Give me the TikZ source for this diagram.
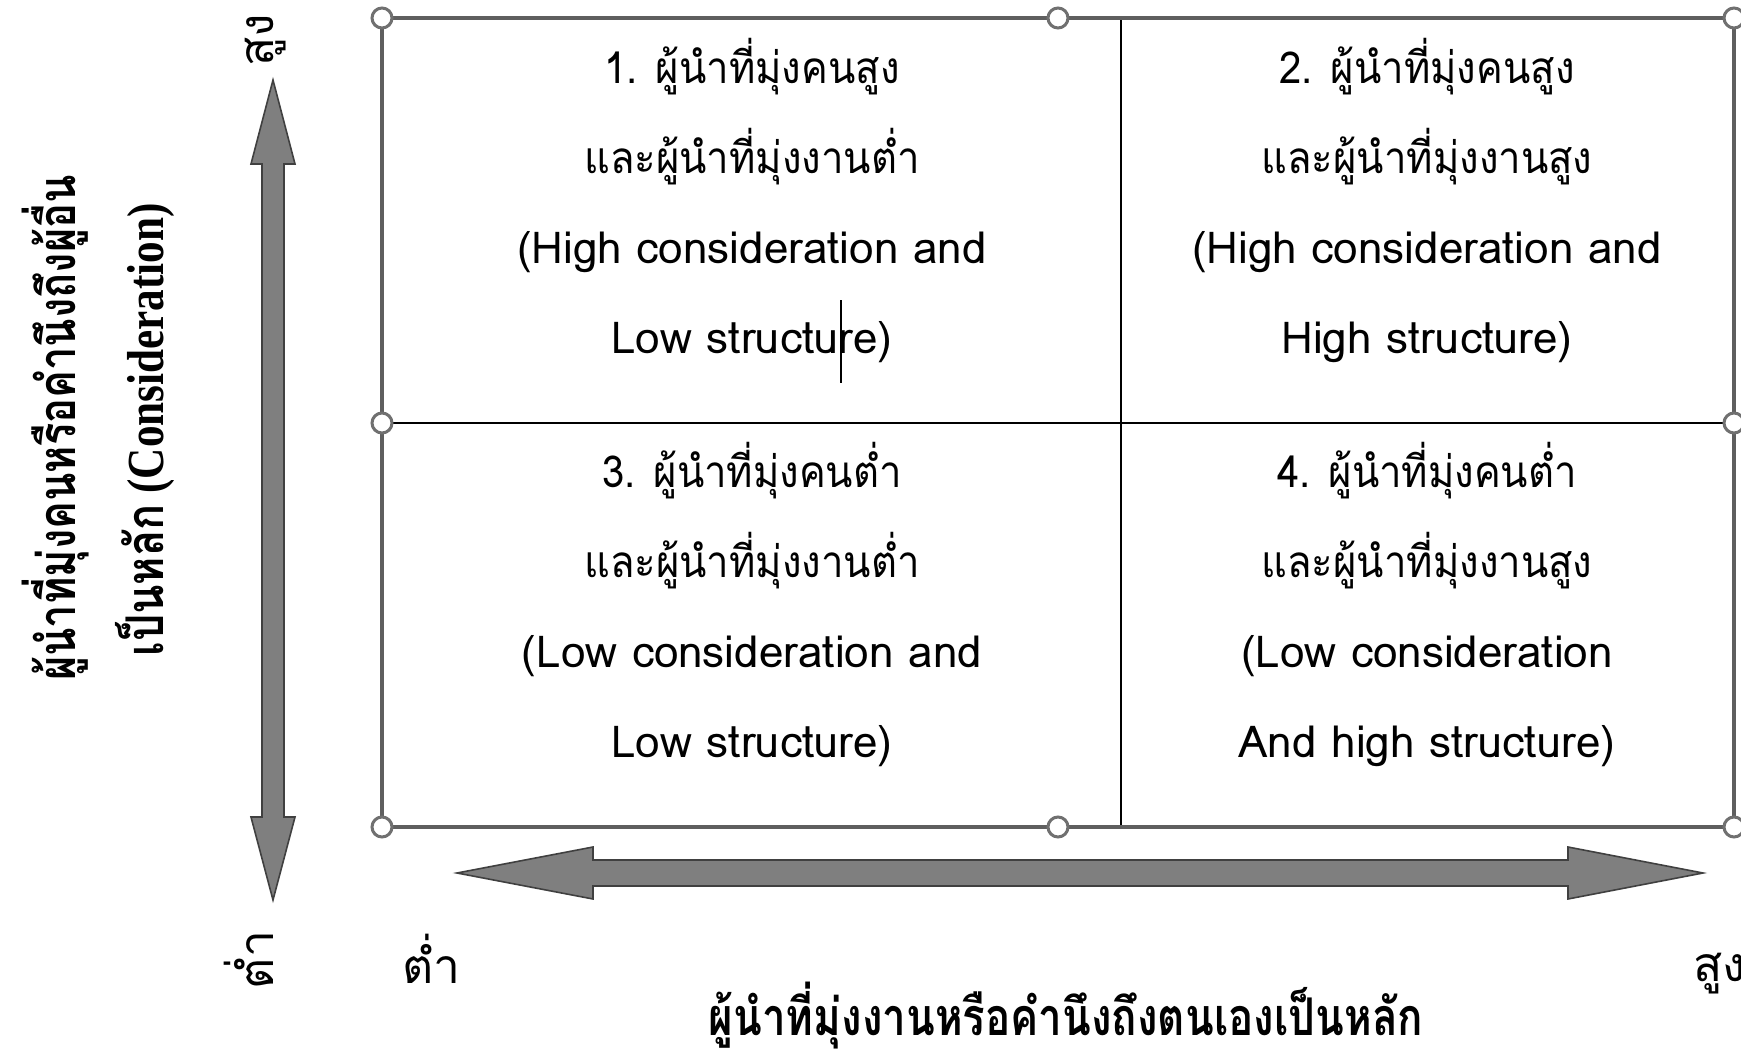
\documentclass[tikz,border=0pt]{standalone}
\usepackage{fontspec}
\setmainfont{Liberation Serif}
\newfontfamily\thaifont[Script=Thai]{Loma}
\usetikzlibrary{positioning}
\definecolor{framegray}{HTML}{5F5F5F}
\definecolor{handlegray}{HTML}{707070}
\definecolor{arrowfill}{HTML}{7F7F7F}
\newcommand\thn[1]{\scalebox{0.91}[1]{#1}}
\tikzset{frame/.style={draw=framegray, line width=2pt},
  grid/.style={draw=black, line width=1pt},
  handle/.style={circle, draw=handlegray, fill=white, line width=1.5pt, minimum size=10pt, inner sep=0pt},
  bigarrow/.style={fill=arrowfill, draw=black!75, line width=0.8pt, line join=miter},
  cell/.style={align=center, inner sep=0pt, font=\thaifont\fontsize{22}{45}\selectfont},
  lbl/.style={inner sep=0pt, font=\thaifont\fontsize{24}{28}\selectfont},
  ttl/.style={inner sep=0pt, font=\fontsize{26}{30}\selectfont\bfseries}}

\begin{document}
\begin{tikzpicture}[x=0.5pt,y=-0.5pt]
  \useasboundingbox (0,0) rectangle (1741,1049);
  % table and its frame
  \coordinate (nw) at (382,18);
  \coordinate (se) at (1734,827);
  \draw[grid] (382,423) -- (1734,423);
  \draw[grid] (1121,18) -- (1121,827);
  \draw[frame] (nw) rectangle (se);
  \foreach \x/\y [count=\i] in {382/18,1058/18,1734/18,382/423,1734/423,382/827,1058/827,1734/827}
    \node[handle] (h\i) at (\x,\y) {};
  % the four cells
  \node[cell] (c1) at (752,201) {\thn{1. ผู้นำที่มุ่งคนสูง}\\\thn{และผู้นำที่มุ่งงานต่ำ}\\(High consideration and\\Low structure)};
  \node[cell] (c2) at (1427,201) {\thn{2. ผู้นำที่มุ่งคนสูง}\\\thn{และผู้นำที่มุ่งงานสูง}\\(High consideration and\\High structure)};
  \node[cell] (c3) at (752,604) {\thn{3. ผู้นำที่มุ่งคนต่ำ}\\\thn{และผู้นำที่มุ่งงานต่ำ}\\(Low consideration and\\Low structure)};
  \node[cell] (c4) at (1427,604) {\thn{4. ผู้นำที่มุ่งคนต่ำ}\\\thn{และผู้นำที่มุ่งงานสูง}\\(Low consideration\\And high structure)};
  \coordinate (cur1) at (841,300);
  \coordinate (cur2) at (841,383);
  \draw[black, line width=1pt] (cur1) -- (cur2);
  % axes
  \draw[bigarrow] (273,80) -- (295,164) -- (284,164) -- (284,817) -- (295,817) -- (273,900)
    -- (251,817) -- (262,817) -- (262,164) -- (251,164) -- cycle;
  \draw[bigarrow] (457,873) -- (593,847) -- (593,860) -- (1568,860) -- (1568,847) -- (1703,873)
    -- (1568,899) -- (1568,886) -- (593,886) -- (593,899) -- cycle;
  \node[lbl, rotate=90, anchor=base] (vhi) at (273,40) {สูง};
  \node[lbl, rotate=90, anchor=base] (vlo) at (273,960) {ต่ำ};
  \node[lbl, anchor=base west] (hlo) at (402,983) {ต่ำ};
  \node[lbl, anchor=base west] (hhi) at (1693,981) {สูง};
  % axis titles
  \node[ttl, rotate=90, anchor=base] (vt1) at (75,428) {\scalebox{0.8}[1]{\thaifont ผู้นำที่มุ่งคนหรือคำนึงถึงผู้อื่น}};
  \node[ttl, rotate=90, anchor=base] (vt2) at (163,430) {\scalebox{0.83}[1]{{\thaifont เป็นหลัก} (Consideration)}};
  \node[ttl, anchor=base] (ht) at (1066,1035) {\scalebox{0.81}[1]{\thaifont ผู้นำที่มุ่งงานหรือคำนึงถึงตนเองเป็นหลัก}};
\end{tikzpicture}
\end{document}
